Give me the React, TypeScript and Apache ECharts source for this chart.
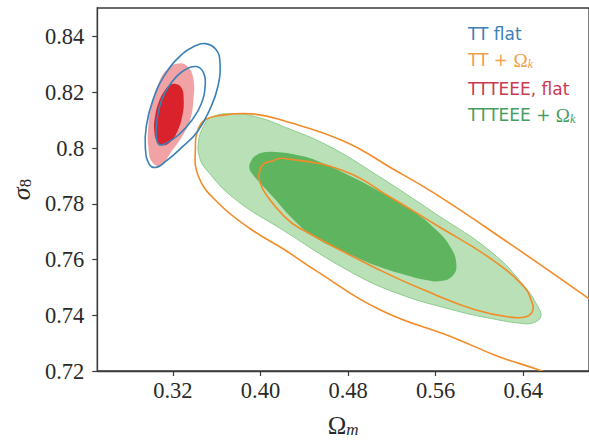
import React, { useEffect, useRef } from "react";
import * as echarts from "echarts";

// Tick values and labels
const xTicks = [0.32, 0.4, 0.48, 0.56, 0.64];
const xTickLabels = ["0.32", "0.40", "0.48", "0.56", "0.64"];
const yTicks = [0.72, 0.74, 0.76, 0.78, 0.8, 0.82, 0.84];
const yTickLabels = ["0.72", "0.74", "0.76", "0.78", "0.8", "0.82", "0.84"];

// Contour outlines [Omega_m, sigma_8]
const ttFlat95 = [
  [0.3496, 0.8375], [0.3594, 0.8354], [0.363, 0.8308], [0.3612, 0.8222], [0.354, 0.8141],
  [0.3424, 0.8059], [0.3272, 0.7999], [0.3137, 0.7953], [0.3048, 0.7931], [0.2985, 0.7942],
  [0.2949, 0.7999], [0.2958, 0.808], [0.3021, 0.8176], [0.3137, 0.8269], [0.3281, 0.8336],
  [0.3388, 0.8364],
];
const ttFlat68 = [
  [0.3415, 0.8293], [0.3478, 0.8272], [0.3496, 0.823], [0.346, 0.8159], [0.337, 0.8098],
  [0.3254, 0.8048], [0.3137, 0.8017], [0.3075, 0.8013], [0.3048, 0.8041], [0.3057, 0.8105],
  [0.3101, 0.8176], [0.3182, 0.8233], [0.329, 0.8276],
];
const tteeFlat95 = [
  [0.3254, 0.8304], [0.3334, 0.8293], [0.3388, 0.8247], [0.3388, 0.8176], [0.3361, 0.8105],
  [0.3299, 0.8052], [0.3182, 0.7985], [0.3092, 0.7938], [0.3012, 0.7949], [0.2976, 0.8006],
  [0.2976, 0.8077], [0.3003, 0.8148], [0.3066, 0.823], [0.3155, 0.8286],
];
const tteeFlat68 = [
  [0.3227, 0.823], [0.3281, 0.8215], [0.3299, 0.8176], [0.329, 0.8123], [0.3245, 0.8063],
  [0.3182, 0.8024], [0.311, 0.801], [0.3057, 0.8024], [0.303, 0.8063], [0.3039, 0.8116],
  [0.3075, 0.8169], [0.3128, 0.8208], [0.3173, 0.8226],
];
const ttOk95 = [
  [0.3406, 0.8006], [0.3433, 0.807], [0.3496, 0.8102], [0.3612, 0.8116], [0.3917, 0.8123],
  [0.4213, 0.8098], [0.4768, 0.8024], [0.5198, 0.7928], [0.5601, 0.7835], [0.6273, 0.7658],
  [0.6937, 0.7477], [0.7483, 0.7324], [0.7932, 0.7164], [0.8065, 0.7058], [0.7752, 0.7033],
  [0.7124, 0.7111], [0.6569, 0.72], [0.6166, 0.7253], [0.578, 0.7317], [0.5091, 0.742],
  [0.4499, 0.7562], [0.4213, 0.7637], [0.3917, 0.7708], [0.3612, 0.7804], [0.3433, 0.7899],
];
const ttOk68 = [
  [0.3988, 0.791], [0.4024, 0.7942], [0.4096, 0.7953], [0.4213, 0.7963], [0.4768, 0.7917],
  [0.5198, 0.7821], [0.5601, 0.7725], [0.6112, 0.7601], [0.6408, 0.7502], [0.647, 0.7456],
  [0.6488, 0.742], [0.6426, 0.7395], [0.6255, 0.7395], [0.596, 0.742], [0.5601, 0.7473],
  [0.5091, 0.7562], [0.4347, 0.7715], [0.4213, 0.7757], [0.406, 0.7828], [0.3997, 0.7875],
];
const tteeOk95 = [
  [0.3433, 0.8017], [0.3478, 0.8077], [0.3558, 0.8112], [0.3765, 0.8123], [0.3989, 0.8109],
  [0.4213, 0.8077], [0.4616, 0.8009], [0.5064, 0.7903], [0.5601, 0.7764], [0.6112, 0.7626],
  [0.6408, 0.7505], [0.6533, 0.7431], [0.656, 0.7395], [0.6497, 0.7374], [0.6408, 0.737],
  [0.6112, 0.7388], [0.578, 0.7417], [0.5243, 0.748], [0.4795, 0.7562], [0.4213, 0.7704],
  [0.3765, 0.7818], [0.3496, 0.7928], [0.3442, 0.797],
];
const tteeOk68 = [
  [0.3899, 0.7928], [0.3917, 0.7956], [0.3962, 0.7974], [0.4033, 0.7985], [0.4168, 0.7985],
  [0.4347, 0.7974], [0.4526, 0.7953], [0.4768, 0.791], [0.5064, 0.785], [0.5359, 0.7782],
  [0.5601, 0.7708], [0.5736, 0.7644], [0.5789, 0.7583], [0.5754, 0.7541], [0.5646, 0.7523],
  [0.5512, 0.7527], [0.5332, 0.7544], [0.5091, 0.7573], [0.4795, 0.7622], [0.4499, 0.7679],
  [0.4302, 0.7743], [0.4123, 0.7821], [0.4006, 0.7871], [0.3935, 0.7903],
];

const legendItems = [
  { text: "{a|TT flat}", color: "#3d80b6" },
  { text: "{a|TT + }{o|Ω}{k|k}", color: "#f3a04a" },
  { text: "{a|TTTEEE, flat}", color: "#c83a52" },
  { text: "{a|TTTEEE + }{o|Ω}{k|k}", color: "#479d5f" },
];
const legendY = [34, 60, 89, 115];

const SERIF = "Liberation Serif";
const SANS = "DejaVu Sans";
const AXIS_COLOR = "#3a3a3a";
const TEXT_COLOR = "#2a2a2a";

function contourSeries(name: string, pts: number[][], style: any) {
  return {
    type: "custom",
    name,
    data: pts,
    clip: true,
    silent: true,
    encode: { x: 0, y: 1 },
    renderItem: (params: any, api: any) => {
      if (params.dataIndex !== 0) return null;
      const cs = params.coordSys;
      return {
        type: "group",
        clipPath: { type: "rect", shape: { x: cs.x, y: cs.y, width: cs.width, height: cs.height } },
        children: [
          {
            type: "polygon",
            shape: { points: pts.map((p) => api.coord(p)), smooth: 0.45 },
            style,
          },
        ],
      };
    },
  };
}

function labelFor(v: number, ticks: number[], labels: string[]) {
  const i = ticks.findIndex((t) => Math.abs(t - v) < 1e-6);
  return i >= 0 ? labels[i] : "";
}

export default function App() {
  const ref = useRef<HTMLDivElement>(null);
  useEffect(() => {
    if (!ref.current) return;
    const chart = echarts.init(ref.current, null, { renderer: "svg" });
    const lineStyle = (c: string) => ({ fill: "none", stroke: c, lineWidth: 1.6 });
    chart.setOption({
      animation: false,
      backgroundColor: "#ffffff",
      grid: {
        left: 95,
        top: 8,
        right: -7,
        bottom: 68,
        show: true,
        borderColor: AXIS_COLOR,
        borderWidth: 1.3,
        backgroundColor: "transparent",
      },
      xAxis: {
        type: "value",
        min: 0.251,
        max: 0.7,
        splitLine: { show: false },
        axisLine: { show: true, lineStyle: { color: AXIS_COLOR, width: 1.3 } },
        axisTick: { show: true, customValues: xTicks, length: 5, lineStyle: { color: AXIS_COLOR, width: 1.2 } },
        axisLabel: {
          customValues: xTicks,
          formatter: (v: number) => labelFor(v, xTicks, xTickLabels),
          fontFamily: SERIF,
          fontSize: 22.5,
          color: TEXT_COLOR,
          margin: 8,
        },
        name: "{o|Ω}{m|m}",
        nameLocation: "middle",
        nameGap: 41,
        nameTextStyle: {
          rich: {
            o: { fontFamily: SERIF, fontSize: 25, color: TEXT_COLOR, lineHeight: 26 },
            m: { fontFamily: SERIF, fontStyle: "italic", fontSize: 17, color: TEXT_COLOR, lineHeight: 12, verticalAlign: "bottom" },
          },
        },
      },
      yAxis: {
        type: "value",
        min: 0.72,
        max: 0.8503,
        splitLine: { show: false },
        axisLine: { show: true, lineStyle: { color: AXIS_COLOR, width: 1.3 } },
        axisTick: { show: true, customValues: yTicks, length: 5, lineStyle: { color: AXIS_COLOR, width: 1.2 } },
        axisLabel: {
          customValues: yTicks,
          formatter: (v: number) => labelFor(v, yTicks, yTickLabels),
          fontFamily: SERIF,
          fontSize: 22.5,
          color: TEXT_COLOR,
          margin: 13,
        },
        name: "{s|σ}{e|8}",
        nameLocation: "middle",
        nameGap: 60,
        nameRotate: 90,
        nameTextStyle: {
          rich: {
            s: { fontFamily: SERIF, fontStyle: "italic", fontSize: 26, color: TEXT_COLOR, lineHeight: 26 },
            e: { fontFamily: SERIF, fontSize: 17, color: TEXT_COLOR, lineHeight: 12, verticalAlign: "bottom" },
          },
        },
      },
      graphic: legendItems.map((it, i) => ({
        type: "text",
        x: 468,
        y: legendY[i],
        silent: true,
        style: {
          text: it.text,
          verticalAlign: "middle",
          align: "left",
          rich: {
            a: { fontFamily: SANS, fontSize: 17, fill: it.color, lineHeight: 20 },
            o: { fontFamily: SERIF, fontSize: 19, fill: it.color, lineHeight: 20 },
            k: { fontFamily: SERIF, fontStyle: "italic", fontSize: 12, fill: it.color, lineHeight: 10, verticalAlign: "bottom" },
          },
        },
      })),
      series: [
        contourSeries("TTTEEE + Ωk 95%", tteeOk95, { fill: "#b9e0b6", stroke: "#8fcb90", lineWidth: 1 }),
        contourSeries("TTTEEE + Ωk 68%", tteeOk68, { fill: "#5fb55f" }),
        contourSeries("TTTEEE, flat 95%", tteeFlat95, { fill: "#f0a2a4" }),
        contourSeries("TTTEEE, flat 68%", tteeFlat68, { fill: "#d9222b" }),
        contourSeries("TT + Ωk 95%", ttOk95, lineStyle("#f28c28")),
        contourSeries("TT + Ωk 68%", ttOk68, lineStyle("#f28c28")),
        contourSeries("TT flat 95%", ttFlat95, lineStyle("#3a81b8")),
        contourSeries("TT flat 68%", ttFlat68, lineStyle("#3a81b8")),
      ],
    });
    return () => chart.dispose();
  }, []);
  return (
    <div
      ref={ref}
      style={{ position: "absolute", left: 0, top: 0, width: 589, height: 443, background: "#fff" }}
    />
  );
}
